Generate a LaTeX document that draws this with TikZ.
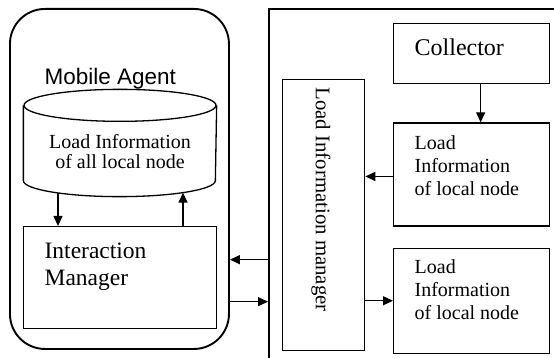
\documentclass[tikz,border=0pt]{standalone}
\usepackage{fontspec}
\setmainfont{Liberation Serif}
\newfontfamily\agentfont{Liberation Sans}
\usetikzlibrary{positioning,arrows.meta,calc}

\begin{document}
\begin{tikzpicture}[x=1pt, y=-1pt, line width=1.3pt,
                    box node/.style={draw,rectangle,inner sep=0pt},
                    frame node/.style={draw,rectangle,line width=1.9pt,inner sep=0pt},
                    label text/.style={inner sep=0pt,align=left},
                    arr/.style={-{Triangle[length=10pt,width=9pt]}}]

  \useasboundingbox (0,0) rectangle (554,358);
  \clip (0,0) rectangle (554,358);

  % mobile agent
  \node[frame node, rounded corners=35pt, minimum width=219pt, minimum height=340pt, anchor=north west] (agent) at (9,8) {};
  \node[label text, anchor=base west, font=\agentfont\fontsize{22.5}{26}\selectfont] (agentname) at (44,85) {Mobile Agent};

  \node[inner sep=0pt, minimum width=192pt, minimum height=74pt] (store) at (120,143) {};
  \draw (store.north) ellipse [x radius=96pt, y radius=16pt];
  \draw (store.north west) -- (store.south west) arc [start angle=180, end angle=360, x radius=96pt, y radius=16pt] -- (store.north east);
  \node[inner sep=0pt, align=center, font=\fontsize{20}{20}\selectfont] (storetext) at ([yshift=-9pt]store.center) {Load Information\\of all local node};

  \node[box node, minimum width=193pt, minimum height=102pt, anchor=north west] (im) at (23,226) {};
  \node[label text, anchor=north west, font=\fontsize{23.5}{27}\selectfont] (imtext) at (44,242) {Interaction\\Manager};

  % host side
  \node[frame node, minimum width=320pt, minimum height=400pt, anchor=north west] (host) at (268,8) {};

  \node[box node, minimum width=156pt, minimum height=60pt, anchor=north west] (collector) at (393,23) {};
  \node[label text, anchor=base west, font=\fontsize{24}{28}\selectfont] (collectortext) at (414,56) {Collector};

  \node[box node, minimum width=156pt, minimum height=103pt, below=38pt of collector] (local1) {};
  \node[label text, anchor=north west, font=\fontsize{20}{23}\selectfont] (local1text) at (414,135) {Load\\Information\\of local node};

  \node[box node, minimum width=156pt, minimum height=105pt, below=21pt of local1] (local2) {};
  \node[label text, anchor=north west, font=\fontsize{20}{23}\selectfont] (local2text) at (414,259) {Load\\Information\\of local node};

  \node[box node, minimum width=82pt, minimum height=271pt, anchor=north west] (manager) at (282,79) {};
  \node[inner sep=0pt, rotate=-90, anchor=west, font=\fontsize{20.8}{24}\selectfont] (managertext) at (321,87) {Load Information manager};

  % arrows
  \coordinate (downstart) at ($(store.south)+(-62,12)$);
  \coordinate (upend) at ($(store.south)+(63,12)$);
  \coordinate (inlevel) at ($(im.center)+(0,-18)$);
  \coordinate (outlevel) at ($(im.center)+(0,24)$);

  \draw[arr] (downstart) -- (downstart |- im.north);
  \draw[arr] (upend |- im.north) -- (upend);
  \draw[arr] (inlevel -| host.west) -- (inlevel -| agent.east);
  \draw[arr] (outlevel -| agent.east) -- (outlevel -| host.west);
  \draw[arr] ([xshift=9pt]collector.south) -- ([xshift=9pt]local1.north);
  \draw[arr] ([yshift=-2pt]local1.west) -- ([yshift=-2pt]local1.west -| manager.east);
  \draw[arr] (manager.east |- local2.west) -- (local2.west);
\end{tikzpicture}
\end{document}
